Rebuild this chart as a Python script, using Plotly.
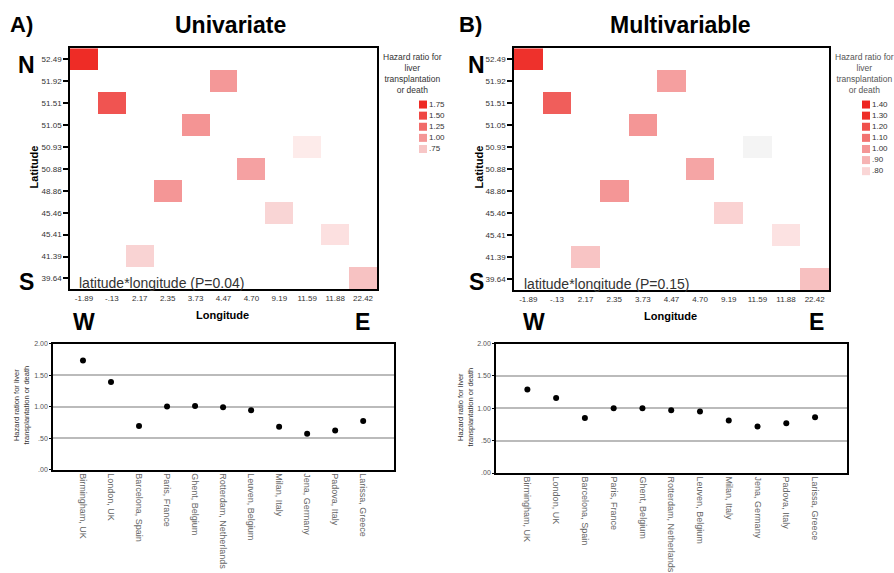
import numpy as np
import plotly.graph_objects as go

# ---------------- data ----------------
cities = ["Birmingham, UK", "London, UK", "Barcelona, Spain", "Paris, France",
          "Ghent, Belgium", "Rotterdam, Netherlands", "Leuven, Belgium",
          "Milan, Italy", "Jena, Germany", "Padova, Italy", "Larissa, Greece"]
longitudes = ["-1.89", "-.13", "2.17", "2.35", "3.73", "4.47", "4.70",
              "9.19", "11.59", "11.88", "22.42"]
city_latitudes = ["52.49", "51.51", "41.39", "48.86", "51.05", "51.92",
                  "50.88", "45.46", "50.93", "45.41", "39.64"]
lat_ticks = ["52.49", "51.92", "51.51", "51.05", "50.93", "50.88",
             "48.86", "45.46", "45.41", "41.39", "39.64"]
hr_uni = [1.73, 1.39, 0.69, 1.00, 1.01, 0.99, 0.94, 0.68, 0.57, 0.62, 0.77]
hr_multi = [1.29, 1.16, 0.85, 1.00, 1.00, 0.97, 0.95, 0.81, 0.72, 0.77, 0.86]
legend_uni = [1.75, 1.50, 1.25, 1.00, 0.75]
legend_uni_text = ["1.75", "1.50", "1.25", "1.00", ".75"]
legend_multi = [1.40, 1.30, 1.20, 1.10, 1.00, 0.90, 0.80]
legend_multi_text = ["1.40", "1.30", "1.20", "1.10", "1.00", ".90", ".80"]
y_tickvals = [0, 0.5, 1.0, 1.5, 2.0]
y_ticktext = [".00", ".50", "1.00", "1.50", "2.00"]

# ---------------- colour scales ----------------
scale_uni = [(0.50, (255, 246, 246)), (0.56, (253, 237, 236)), (0.62, (252, 224, 224)),
             (0.68, (249, 213, 213)), (0.76, (247, 196, 196)), (0.93, (245, 163, 164)),
             (1.00, (244, 150, 150)), (1.38, (240, 85, 82)), (1.75, (238, 42, 36))]
scale_multi = [(0.70, (244, 244, 244)), (0.745, (244, 244, 244)), (0.76, (252, 230, 230)),
               (0.80, (250, 214, 214)), (0.86, (247, 192, 192)), (1.00, (244, 150, 150)),
               (1.17, (240, 90, 87)), (1.30, (238, 46, 40)), (1.40, (238, 36, 32))]


def to_plotly_scale(scale):
    lo, hi = scale[0][0], scale[-1][0]
    return [[(v - lo) / (hi - lo), "rgb(%d,%d,%d)" % c] for v, c in scale]


def color_at(scale, val):
    vs = [s[0] for s in scale]
    rgb = [np.interp(val, vs, [s[1][i] for s in scale]) for i in range(3)]
    return "rgb(%d,%d,%d)" % tuple(int(round(c)) for c in rgb)


def grid(values):
    z = [[None] * len(longitudes) for _ in lat_ticks]
    for i, v in enumerate(values):
        z[lat_ticks.index(city_latitudes[i])][i] = v
    return z


W, H = 894, 573
def px(x): return x / W
def py(y): return 1 - y / H

FONT = "Liberation Sans, Arial, sans-serif"
fig = go.Figure()

# heatmaps
for vals, scale, ax in [(hr_uni, scale_uni, ""), (hr_multi, scale_multi, "2")]:
    fig.add_trace(go.Heatmap(
        x=longitudes, y=lat_ticks, z=grid(vals),
        colorscale=to_plotly_scale(scale), zmin=scale[0][0], zmax=scale[-1][0],
        showscale=False, hoverinfo="skip",
        xaxis="x" + ax, yaxis="y" + ax))

# scatter plots
for vals, ax in [(hr_uni, "3"), (hr_multi, "4")]:
    fig.add_trace(go.Scatter(
        x=cities, y=vals, mode="markers",
        marker=dict(color="black", size=6),
        xaxis="x" + ax, yaxis="y" + ax, showlegend=False, hoverinfo="skip"))

# legend swatches
for vals, txt, scale, ax in [(legend_uni, legend_uni_text, scale_uni, "5"),
                             (legend_multi, legend_multi_text, scale_multi, "6")]:
    fig.add_trace(go.Scatter(
        x=[0] * len(vals), y=list(range(len(vals))), mode="markers+text",
        text=txt, textposition="middle right",
        textfont=dict(size=8, color="#333"),
        marker=dict(symbol="square", size=8, color=[color_at(scale, v) for v in vals]),
        cliponaxis=False, xaxis="x" + ax, yaxis="y" + ax,
        showlegend=False, hoverinfo="skip"))

line = dict(showline=True, linecolor="black", linewidth=1.6, mirror=True)
tickc = "#333"

heat_x = dict(type="category", categoryorder="array", categoryarray=longitudes,
              range=[-0.5, 10.5], showgrid=False, zeroline=False,
              tickfont=dict(size=8, color=tickc), ticks="", **line)
heat_y = dict(type="category", categoryorder="array", categoryarray=lat_ticks,
              range=[10.5, -0.5], showgrid=False, zeroline=False,
              tickfont=dict(size=8, color=tickc), ticks="outside", ticklen=5,
              tickcolor="black", tickwidth=1.5, **line)
sc_x = dict(type="category", categoryorder="array", categoryarray=cities,
            showgrid=False, zeroline=False, tickangle=90,
            tickfont=dict(size=9, color="#666"), ticks="", **line)
sc_y = dict(range=[0, 2], tickvals=y_tickvals, ticktext=y_ticktext,
            showgrid=True, gridcolor="#BBBBBB", gridwidth=1.5, zeroline=False,
            tickfont=dict(size=7, color="#555"), ticks="outside", ticklen=2,
            tickcolor="black", **line)
hidden = dict(visible=False, showgrid=False, zeroline=False, fixedrange=True)

fig.update_layout(
    width=W, height=H, margin=dict(l=0, r=0, t=0, b=0),
    paper_bgcolor="white", plot_bgcolor="white",
    font=dict(family=FONT, color="black"), showlegend=False,
    xaxis=dict(domain=[px(70), px(377)], anchor="y", **heat_x),
    yaxis=dict(domain=[py(290), py(45)], anchor="x", **heat_y),
    xaxis2=dict(domain=[px(514), px(829)], anchor="y2", **heat_x),
    yaxis2=dict(domain=[py(291), py(45)], anchor="x2", **heat_y),
    xaxis3=dict(domain=[px(53), px(394)], anchor="y3", range=[-1.07, 11.1], **sc_x),
    yaxis3=dict(domain=[py(473), py(345)], anchor="x3", **sc_y),
    xaxis4=dict(domain=[px(496), px(847)], anchor="y4", range=[-1.09, 11.11], **sc_x),
    yaxis4=dict(domain=[py(476.5), py(345)], anchor="x4", **sc_y),
    xaxis5=dict(domain=[px(419), px(459)], anchor="y5", range=[-1, 9], **hidden),
    yaxis5=dict(domain=[py(175.5), py(96.5)], anchor="x5", range=[6.5, -0.5], **hidden),
    xaxis6=dict(domain=[px(862), px(894)], anchor="y6", range=[-1, 7], **hidden),
    yaxis6=dict(domain=[py(175.5), py(96.5)], anchor="x6", range=[6.5, -0.5], **hidden),
)

ann = []
def A(x, y, text, size, bold=False, color="black", angle=0, xanchor="center"):
    ann.append(dict(x=px(x), y=py(y), xref="paper", yref="paper",
                    text=("<b>%s</b>" % text) if bold else text,
                    showarrow=False, font=dict(size=size, color=color, family=FONT),
                    textangle=angle, xanchor=xanchor, yanchor="middle"))

# panel labels and titles
A(21, 21, "A)", 22, True)
A(230, 21, "Univariate", 23, True)
A(470, 21, "B)", 22, True)
A(680, 21, "Multivariable", 23, True)
# compass letters
for (nx, wx, ex) in [(26, 84, 362), (476, 534, 816)]:
    A(nx, 62, "N", 23, True)
    A(nx, 282, "S", 23, True)
    A(wx, 323, "W", 23, True)
    A(ex, 323, "E", 23, True)
# axis titles
A(222, 316, "Longitude", 11, True)
A(670, 317, "Longitude", 11, True)
A(34, 166, "Latitude", 11, True, angle=-90)
A(479, 166, "Latitude", 11, True, angle=-90)
# interaction p values
A(77, 283, "latitude*longitude (P=0.04)", 14, color="#333", xanchor="left")
A(522, 284, "latitude*longitude (P=0.15)", 14, color="#333", xanchor="left")
# legend titles
A(412, 71, "Hazard ratio for<br>liver<br>transplantation<br>or death", 8.5, color="#333")
A(864, 71, "Hazard ratio for<br>liver<br>transplantation<br>or death", 8.5, color="#555")
# scatter y titles
A(22, 408, "Hazard ration for liver<br>transplantation or death", 7.5, color="#333", angle=-90)
A(466, 410, "Hazard ratio for liver<br>transplantation or death", 7.5, color="#333", angle=-90)

fig.update_layout(annotations=ann)
fig.write_html("out.html")
